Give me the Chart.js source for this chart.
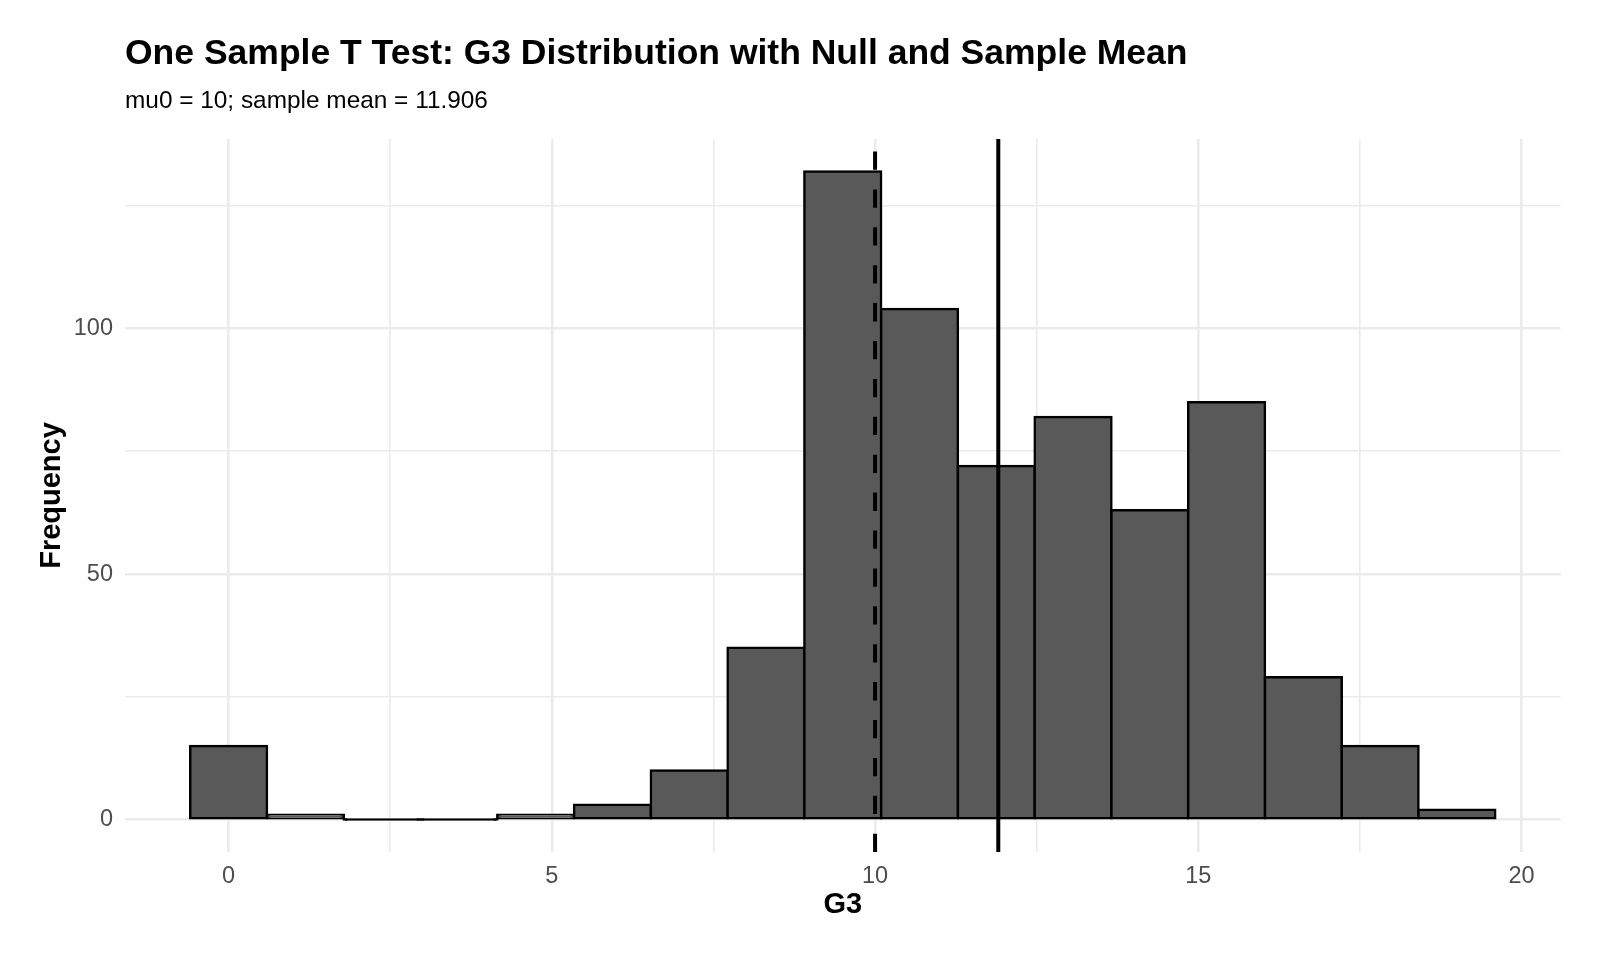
<!DOCTYPE html>
<html>
<head>
<meta charset="utf-8">
<script src="https://cdn.jsdelivr.net/npm/chart.js@4/dist/chart.umd.min.js"></script>
<style>
  html, body { margin: 0; padding: 0; background: #ffffff; }
  #wrap { width: 1600px; height: 960px; position: relative; }
</style>
</head>
<body>
<div id="wrap"><canvas id="c"></canvas></div>
<script>
// ---- Data ----
const binCenters = [0, 1.1875, 2.375, 3.5625, 4.75, 5.9375, 7.125, 8.3125, 9.5, 10.6875, 11.875, 13.0625, 14.25, 15.4375, 16.625, 17.8125, 19];
const binCounts  = [15, 1, 0, 0, 1, 3, 10, 35, 132, 104, 72, 82, 63, 85, 29, 15, 2];
const nullMean = 10;
const sampleMean = 11.906;
const xMajorTicks = [0, 5, 10, 15, 20];
const xMinorTicks = [2.5, 7.5, 12.5, 17.5];
const yMajorTicks = [0, 50, 100];
const yMinorTicks = [25, 75, 125];
const xLimits = [-1.603, 20.603];
const yLimits = [-6.6, 138.6];
const titleText = 'One Sample T Test: G3 Distribution with Null and Sample Mean';
const subtitleText = 'mu0 = 10; sample mean = 11.906';
const xTitle = 'G3';
const yTitle = 'Frequency';

const FONT = '"Liberation Sans", Arial, Helvetica, sans-serif';
const GRID = '#EBEBEB';

const histData = binCenters.map((x, i) => ({ x: x, y: binCounts[i] }));
const nullLine = [{ x: nullMean, y: yLimits[0] }, { x: nullMean, y: yLimits[1] }];
const meanLine = [{ x: sampleMean, y: yLimits[0] }, { x: sampleMean, y: yLimits[1] }];

const allX = xMajorTicks.concat(xMinorTicks).sort((a, b) => a - b);
const allY = yMajorTicks.concat(yMinorTicks).sort((a, b) => a - b);

new Chart(document.getElementById('c'), {
  type: 'bar',
  data: {
    datasets: [
      {
        type: 'line',
        label: 'mu0',
        data: nullLine,
        borderColor: '#000000',
        borderWidth: 4,
        borderDash: [18.3, 19.6],
        borderCapStyle: 'butt',
        pointRadius: 0,
        fill: false,
        order: 0
      },
      {
        type: 'line',
        label: 'sample mean',
        data: meanLine,
        borderColor: '#000000',
        borderWidth: 4,
        borderCapStyle: 'butt',
        pointRadius: 0,
        fill: false,
        order: 0
      },
      {
        type: 'bar',
        label: 'G3',
        data: histData,
        backgroundColor: (ctx) => (ctx.raw && ctx.raw.y === 0 ? '#000000' : '#595959'),
        borderColor: '#000000',
        borderWidth: 2.5,
        borderSkipped: false,
        inflateAmount: 1.25,
        minBarLength: 0.05,
        barPercentage: 1,
        categoryPercentage: 1,
        order: 1
      }
    ]
  },
  options: {
    responsive: true,
    maintainAspectRatio: false,
    animation: false,
    layout: { padding: { left: 0, right: 39.5, top: 0, bottom: 0 } },
    plugins: {
      legend: { display: false },
      tooltip: { enabled: false },
      title: {
        display: true,
        text: titleText,
        align: 'start',
        fullSize: false,
        color: '#000000',
        font: { family: FONT, size: 35.5, weight: 'bold', lineHeight: 1.2 },
        padding: { top: 33, bottom: 0 }
      },
      subtitle: {
        display: true,
        text: subtitleText,
        align: 'start',
        fullSize: false,
        color: '#000000',
        font: { family: FONT, size: 24.4, weight: 'normal', lineHeight: 1.2 },
        padding: { top: 11, bottom: 23.1 }
      }
    },
    scales: {
      x: {
        type: 'linear',
        position: 'bottom',
        min: xLimits[0],
        max: xLimits[1],
        offset: false,
        afterBuildTicks: (scale) => { scale.ticks = allX.map(v => ({ value: v })); },
        afterFit: (scale) => { scale.height = 108; },
        grid: {
          offset: false,
          drawTicks: false,
          color: GRID,
          lineWidth: (ctx) => (ctx.tick && xMajorTicks.includes(ctx.tick.value) ? 2.6 : 1.6)
        },
        border: { display: false },
        ticks: {
          autoSkip: false,
          maxRotation: 0,
          padding: 10,
          color: '#4D4D4D',
          font: { family: FONT, size: 23.5, lineHeight: 1.2 },
          callback: (v) => (xMajorTicks.includes(v) ? String(v) : '')
        },
        title: {
          display: true,
          text: xTitle,
          color: '#000000',
          font: { family: FONT, size: 29, weight: 'bold', lineHeight: 1.2 },
          padding: { top: 0, bottom: 37.5 }
        }
      },
      y: {
        type: 'linear',
        position: 'left',
        min: yLimits[0],
        max: yLimits[1],
        afterBuildTicks: (scale) => { scale.ticks = allY.map(v => ({ value: v })); },
        afterFit: (scale) => { scale.width = 125; },
        grid: {
          drawTicks: false,
          color: GRID,
          lineWidth: (ctx) => (ctx.tick && yMajorTicks.includes(ctx.tick.value) ? 2.6 : 1.6)
        },
        border: { display: false },
        ticks: {
          autoSkip: false,
          padding: 12,
          color: '#4D4D4D',
          font: { family: FONT, size: 23.5, lineHeight: 1.2 },
          callback: (v) => (yMajorTicks.includes(v) ? String(v) : '')
        },
        title: {
          display: true,
          text: yTitle,
          color: '#000000',
          font: { family: FONT, size: 29, weight: 'bold', lineHeight: 1.2 },
          padding: { top: 34.3, bottom: 0 }
        }
      }
    }
  }
});
</script>
</body>
</html>
